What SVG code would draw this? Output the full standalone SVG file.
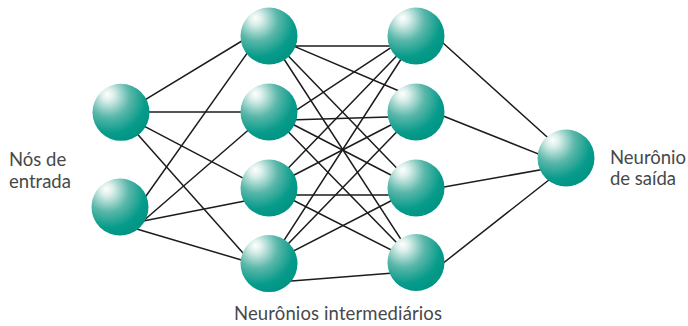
<svg xmlns="http://www.w3.org/2000/svg" width="688" height="326" viewBox="0 0 688 326">
  <defs>
    <radialGradient id="ball" cx="0.32" cy="0.26" r="0.78" fx="0.26" fy="0.18">
      <stop offset="0" stop-color="#ffffff"/>
      <stop offset="0.14" stop-color="#dcefeb"/>
      <stop offset="0.47" stop-color="#5ab7aa"/>
      <stop offset="0.8" stop-color="#069b8a"/>
      <stop offset="1" stop-color="#009583"/>
    </radialGradient>
  </defs>
  <style>
    .link { stroke: #1c1c1c; stroke-width: 1.5; fill: none; stroke-linecap: round; }
    .node { fill: url(#ball); }
    .label { font-family: "Lato", "Noto Sans", "Liberation Sans", sans-serif; font-size: 18.5px; fill: #484848; }
  </style>

  <rect width="688" height="326" fill="#ffffff"/>

  <!-- connections, drawn beneath the spheres -->
  <g id="connectors" class="link">
    <!-- input layer to first hidden layer -->
    <line x1="135" y1="105.8" x2="255" y2="33"/>
    <line x1="130" y1="112" x2="260" y2="112"/>
    <line x1="135" y1="121.4" x2="255" y2="184.4"/>
    <line x1="132" y1="127.9" x2="255" y2="266.5"/>
    <line x1="135" y1="211.5" x2="255" y2="42.1"/>
    <line x1="142" y1="222" x2="255" y2="124.2"/>
    <line x1="142" y1="221.2" x2="255" y2="199"/>
    <line x1="135" y1="228.5" x2="255" y2="264"/>
    <!-- first hidden layer to second hidden layer -->
    <line x1="280" y1="46" x2="405" y2="46"/>
    <line x1="280" y1="120.3" x2="405" y2="116.5"/>
    <line x1="280" y1="195" x2="405" y2="195"/>
    <line x1="285" y1="281.6" x2="400" y2="272.5"/>
    <line x1="285" y1="42.4" x2="405" y2="93.5"/>
    <line x1="400" y1="41.7" x2="285" y2="117.7"/>
    <line x1="416" y1="36" x2="269" y2="263.6"/>
    <line x1="269" y1="36" x2="416" y2="188"/>
    <line x1="269" y1="36" x2="416" y2="262.5"/>
    <line x1="269" y1="112" x2="416" y2="188"/>
    <line x1="269" y1="112" x2="416" y2="262.5"/>
    <line x1="269" y1="188" x2="416" y2="36"/>
    <line x1="269" y1="188" x2="416" y2="112"/>
    <line x1="269" y1="188" x2="416" y2="262.5"/>
    <line x1="269" y1="263.6" x2="416" y2="112"/>
    <line x1="269" y1="263.6" x2="416" y2="188"/>
    <!-- second hidden layer to output -->
    <line x1="430" y1="31.3" x2="556" y2="145"/>
    <line x1="430" y1="110.7" x2="552" y2="159.4"/>
    <line x1="430" y1="189.5" x2="552" y2="167.8"/>
    <line x1="430" y1="273.5" x2="552" y2="177.5"/>
  </g>

  <!-- input nodes -->
  <g id="in1"><circle class="node" cx="121" cy="112.3" r="28.5"/></g>
  <g id="in2"><circle class="node" cx="120" cy="207" r="28.5"/></g>

  <!-- first hidden layer -->
  <g id="h1a"><circle class="node" cx="269" cy="36" r="28.5"/></g>
  <g id="h1b"><circle class="node" cx="269" cy="112" r="28.5"/></g>
  <g id="h1c"><circle class="node" cx="269" cy="188" r="28.5"/></g>
  <g id="h1d"><circle class="node" cx="269" cy="263.6" r="28.5"/></g>

  <!-- second hidden layer -->
  <g id="h2a"><circle class="node" cx="416" cy="36" r="28.5"/></g>
  <g id="h2b"><circle class="node" cx="416" cy="112" r="28.5"/></g>
  <g id="h2c"><circle class="node" cx="416" cy="188" r="28.5"/></g>
  <g id="h2d"><circle class="node" cx="416" cy="262.5" r="28.5"/></g>

  <!-- output node -->
  <g id="out"><circle class="node" cx="566" cy="158" r="28.5"/></g>

  <!-- labels -->
  <g id="label-input" class="label">
    <text x="9" y="165.5">Nós de</text>
    <text x="9" y="188">entrada</text>
  </g>
  <g id="label-output" class="label">
    <text x="610" y="164">Neurônio</text>
    <text x="610" y="184.5">de saída</text>
  </g>
  <g id="label-hidden" class="label">
    <text x="234" y="320" textLength="208" lengthAdjust="spacing">Neurônios intermediários</text>
  </g>
</svg>
